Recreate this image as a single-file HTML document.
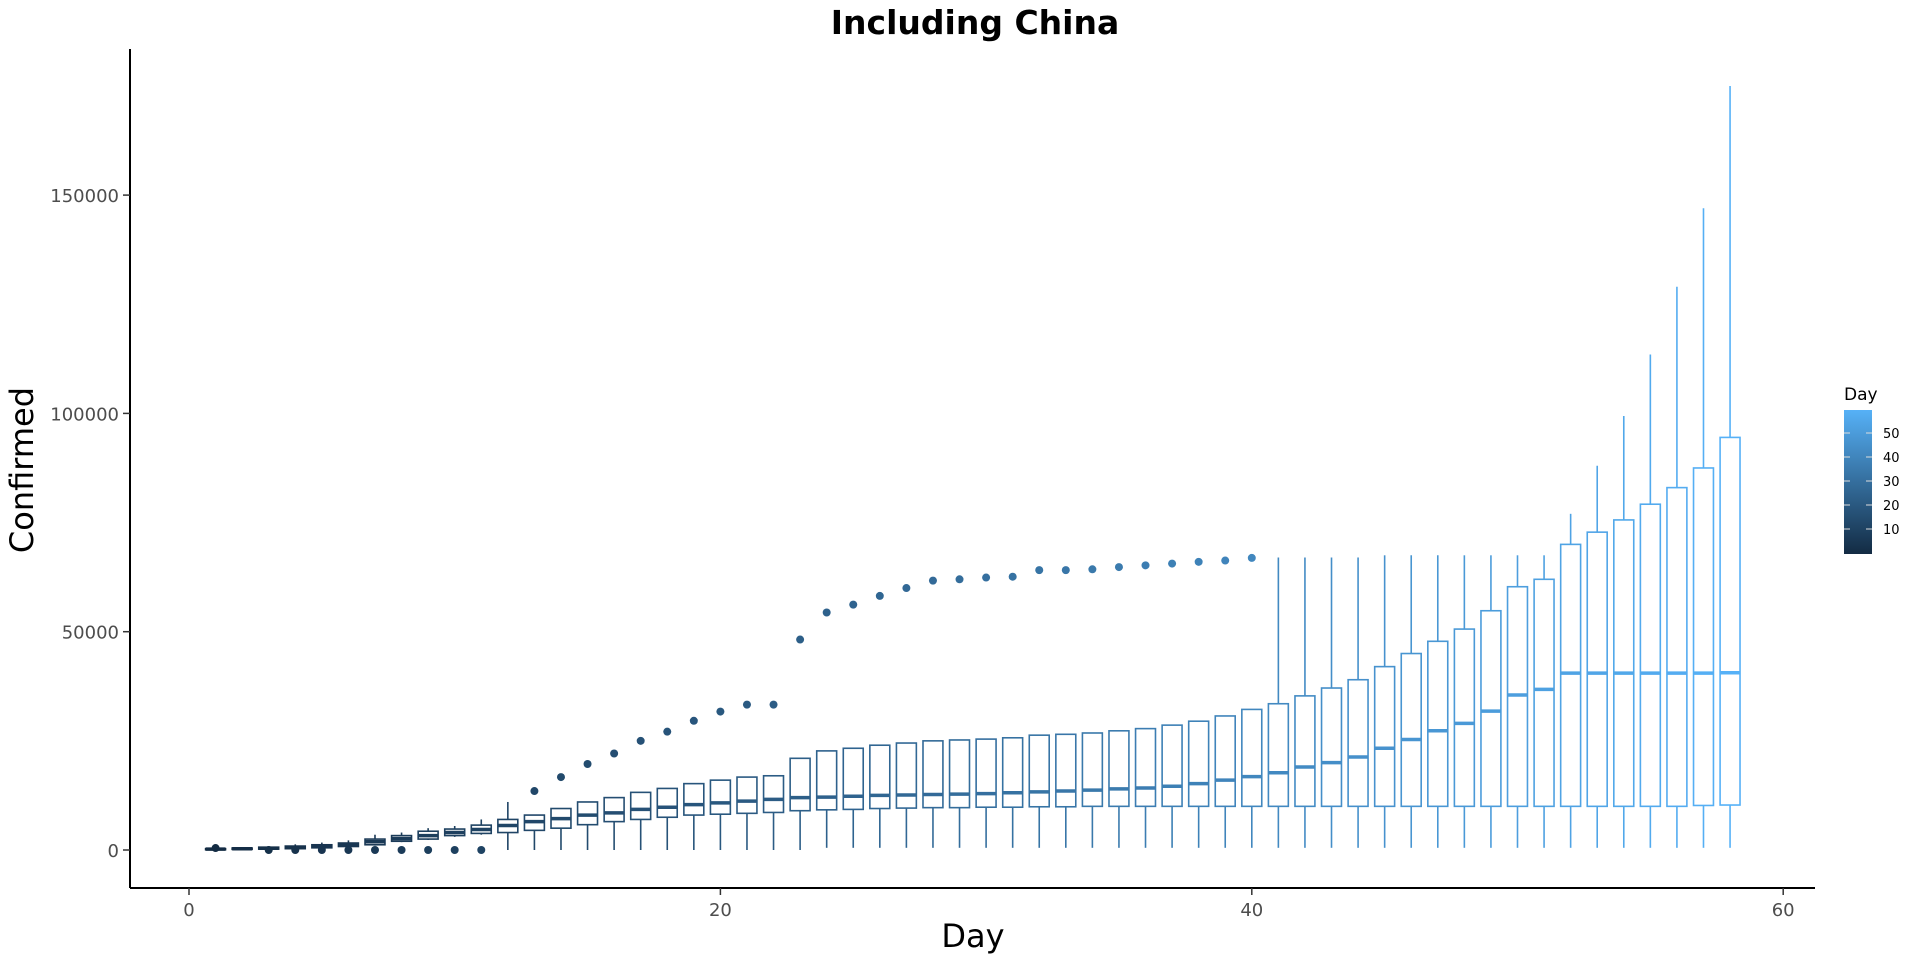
<!DOCTYPE html>
<html><head><meta charset="utf-8"><style>
html,body{margin:0;padding:0;background:#fff;}
svg{display:block;font-family:"DejaVu Sans","Liberation Sans",sans-serif;}
</style></head><body>
<svg id="chart" width="1920" height="960" viewBox="0 0 1920 960">
<defs><linearGradient id="lg" x1="0" y1="1" x2="0" y2="0">
<stop offset="0" stop-color="#132B43"/><stop offset="1" stop-color="#56B1F7"/></linearGradient></defs>
<text x="975" y="34" text-anchor="middle" font-size="33" font-weight="bold">Including China</text>
<g id="plot"></g>
<line x1="130" y1="49" x2="130" y2="888" stroke="#000" stroke-width="2"/>
<line x1="130" y1="888" x2="1815" y2="888" stroke="#000" stroke-width="2"/>
<g id="axes"></g>
<text x="973" y="947" text-anchor="middle" font-size="32">Day</text>
<text transform="translate(33,470) rotate(-90)" text-anchor="middle" font-size="32">Confirmed</text>
<g>
<text x="1844" y="400" font-size="17">Day</text>
<rect x="1844" y="410" width="28" height="144" fill="url(#lg)"/>
<g id="legticks"></g>
</g>
</svg>
<script>
const days=[];for(let i=1;i<=58;i++)days.push(i);
const lowWhisker=[0,0,0,0,0,0,1000,1800,2300,3000,3500,0,0,0,0,0,0,0,0,0,0,0,0,500,500,500,500,500,500,500,500,500,500,500,500,500,500,500,500,500,500,500,500,500,500,500,500,500,500,500,500,500,500,500,500,500,500,500];
const q1=[100,150,200,300,500,800,1200,2000,2500,3300,3800,4000,4500,5000,5800,6500,7000,7500,8000,8200,8400,8600,9000,9200,9300,9500,9600,9700,9700,9800,9800,9900,9900,10000,10000,10000,10000,10000,10000,10000,10000,10000,10000,10000,10000,10000,10000,10000,10000,10000,10000,10000,10000,10000,10000,10000,10200,10300];
const medians=[200,300,400,600,900,1200,1900,2600,3300,4000,4700,5600,6500,7200,8000,8500,9300,9800,10400,10800,11200,11600,12000,12100,12300,12500,12600,12700,12800,12900,13100,13300,13500,13700,14000,14200,14600,15200,16000,16800,17700,19000,20000,21300,23300,25300,27300,29000,31800,35500,36800,40500,40500,40500,40500,40500,40500,40600];
const q3=[300,450,650,900,1200,1600,2500,3300,4300,4800,5700,7000,8000,9500,11000,12000,13200,14100,15200,16000,16700,17000,21000,22700,23300,24000,24500,25000,25200,25400,25700,26300,26500,26800,27300,27800,28600,29500,30700,32200,33500,35300,37100,39000,42000,45000,47800,50600,54800,60300,62000,70000,72800,75600,79200,83000,87500,94500];
const highWhisker=[500,600,900,1300,1700,2200,3500,4000,5000,5500,7000,11000,8000,9500,11000,12000,13200,14100,15200,16000,16700,17000,21000,22700,23300,24000,24500,25000,25200,25400,25700,26300,26500,26800,27300,27800,28600,29500,30700,32200,67000,67000,67000,67000,67500,67500,67500,67500,67500,67500,67500,77000,88000,99400,113500,129000,147000,175000];
const outliers=[[444],[],[0],[0],[0],[0],[0],[0],[0],[0],[0],[],[13500],[16700],[19700],[22100],[25000],[27100],[29600],[31700],[33300],[33300],[48200],[54400],[56200],[58200],[60000],[61700],[62000],[62400],[62600],[64100],[64100],[64300],[64800],[65200],[65600],[66000],[66300],[66900],[],[],[],[],[],[],[],[],[],[],[],[],[],[],[],[],[],[]];
const xTicks=[0,20,40,60];
const yTicks=[0,50000,100000,150000];
const legTicks=[10,20,30,40,50];

const NS="http://www.w3.org/2000/svg";
const X=v=>189+v*26.57;
const Y=v=>850-v*218.3/50000;
const L=v=>529-(v-10)*2.4;
function col(d){const t=(d-1)/57;const a=[0x13,0x2B,0x43],b=[0x56,0xB1,0xF7];
return "rgb("+a.map((c,i)=>Math.round(c+(b[i]-c)*t)).join(",")+")";}
function mk(tag,at,parent){const e=document.createElementNS(NS,tag);for(const k in at)e.setAttribute(k,at[k]);parent.appendChild(e);return e;}
const plot=document.getElementById("plot");
days.forEach((d,i)=>{
  const g=mk("g",{},plot);
  
  
  const c=col(d),cx=X(d),hw=0.375*26.57;
  const w1=mk("line",{x1:cx,x2:cx,y1:Y(highWhisker[i]),y2:Y(q3[i]),stroke:c,"stroke-width":1.6},g);
  
  const w2=mk("line",{x1:cx,x2:cx,y1:Y(q1[i]),y2:Y(lowWhisker[i]),stroke:c,"stroke-width":1.6},g);
  
  const r=mk("rect",{x:cx-hw,y:Y(q3[i]),width:2*hw,height:Math.max(Y(q1[i])-Y(q3[i]),1),fill:"#fff",stroke:c,"stroke-width":1.6},g);
  
  const m=mk("line",{x1:cx-hw,x2:cx+hw,y1:Y(medians[i]),y2:Y(medians[i]),stroke:c,"stroke-width":3.5},g);
  
  outliers[i].forEach(o=>{
    const p=mk("circle",{cx:cx,cy:Y(o),r:4,fill:c},g);
    
  });
});
const axes=document.getElementById("axes");
xTicks.forEach(t=>{
  const l=mk("line",{x1:X(t),x2:X(t),y1:888,y2:895,stroke:"#333","stroke-width":1.5},axes);
  
  const s=mk("text",{x:X(t),y:916,"text-anchor":"middle","font-size":18,fill:"#4d4d4d"},axes);
  s.textContent=t;
  
});
yTicks.forEach(t=>{
  const l=mk("line",{x1:123,x2:130,y1:Y(t),y2:Y(t),stroke:"#333","stroke-width":1.5},axes);
  
  const s=mk("text",{x:119,y:Y(t)+7,"text-anchor":"end","font-size":18,fill:"#4d4d4d"},axes);
  s.textContent=t;
  
});
const lt=document.getElementById("legticks");
legTicks.forEach(t=>{
  const a=mk("line",{x1:1844,x2:1850,y1:L(t),y2:L(t),stroke:"#ddd","stroke-width":1},lt);
  
  const b=mk("line",{x1:1866,x2:1872,y1:L(t),y2:L(t),stroke:"#ddd","stroke-width":1},lt);
  
  const s=mk("text",{x:1883,y:L(t)+5,"font-size":13,fill:"#000"},lt);
  s.textContent=t;
  
});
</script>
</body></html>
